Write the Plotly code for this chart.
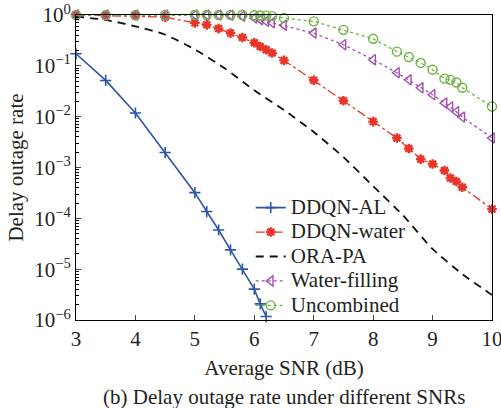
import plotly.graph_objects as go

# SNR grid (dB) used by the simulated schemes
snr_al = [3, 3.5, 4, 4.5, 5, 5.2, 5.4, 5.6, 5.8, 6.0, 6.1, 6.2]
snr_grid = [3, 3.5, 4, 4.5, 5, 5.2, 5.4, 5.6, 5.8, 6.0, 6.1, 6.2, 6.3, 6.5,
            7, 7.5, 8, 8.4, 8.6, 8.8, 9.0, 9.2, 9.3, 9.4, 9.5, 10]
snr_ora = [3, 3.5, 4, 4.5, 5, 5.5, 6, 6.5, 7, 7.5, 8, 8.5, 9, 9.5, 10]

# Delay outage rate per scheme
out_ddqn_al = [0.173, 0.0516, 0.0118, 0.00197, 3.2e-4, 1.36e-4, 5.9e-5, 2.4e-5,
               1.0e-5, 4.05e-6, 2.08e-6, 1.17e-6]
out_ddqn_water = [1.0, 0.97, 0.97, 0.91, 0.70, 0.64, 0.54, 0.44, 0.36, 0.285,
                  0.24, 0.207, 0.179, 0.128, 0.052, 0.0206, 0.0080, 0.0038,
                  0.00237, 0.00146, 0.00117, 0.00087, 0.00062, 0.00053,
                  0.00041, 0.000152]
out_ora_pa = [0.93, 0.80, 0.60, 0.41, 0.21, 0.090, 0.033, 0.0135, 0.0050,
              0.0016, 4.3e-4, 1.15e-4, 2.5e-5, 8e-6, 3.1e-6]
out_water_filling = [1.0, 1.0, 1.0, 1.0, 1.0, 1.0, 1.0, 0.99, 0.95, 0.87, 0.81,
                     0.75, 0.70, 0.63, 0.44, 0.26, 0.132, 0.073, 0.053, 0.037,
                     0.027, 0.0186, 0.0155, 0.0125, 0.0098, 0.0038]
out_uncombined = [1.0, 1.0, 1.0, 1.0, 1.0, 1.0, 1.0, 1.0, 1.0, 0.99, 0.98,
                  0.97, 0.95, 0.87, 0.75, 0.51, 0.34, 0.19, 0.149, 0.114,
                  0.084, 0.056, 0.053, 0.047, 0.037, 0.0158]

y_tickvals = [1, 0.1, 0.01, 1e-3, 1e-4, 1e-5, 1e-6]
y_ticktext = ["10<sup>0</sup>", "10<sup>−1</sup>", "10<sup>−2</sup>",
              "10<sup>−3</sup>", "10<sup>−4</sup>", "10<sup>−5</sup>",
              "10<sup>−6</sup>"]
x_tickvals = [3, 4, 5, 6, 7, 8, 9, 10]

FONT = "Liberation Serif, Times New Roman, serif"
TXT = "#231f20"


def lbl(s):
    return f'<span style="font-size:21px">{s}</span>'


fig = go.Figure()
fig.add_trace(go.Scatter(
    x=snr_al, y=out_ddqn_al, name=lbl("DDQN-AL"), mode="lines+markers",
    line=dict(color="#2e55a6", width=1.6),
    marker=dict(symbol="cross-thin", size=8, line=dict(color="#2e55a6", width=1.6)),
    cliponaxis=False))
fig.add_trace(go.Scatter(
    x=snr_grid, y=out_ddqn_water, name=lbl("DDQN-water"), mode="lines+markers",
    line=dict(color="#e8352a", width=1.3, dash="dashdot"),
    marker=dict(symbol="asterisk-open", size=8, line=dict(color="#e8352a", width=2.4)),
    cliponaxis=False))
fig.add_trace(go.Scatter(
    x=snr_ora, y=out_ora_pa, name=lbl("ORA-PA"), mode="lines",
    line=dict(color="#111111", width=1.8, dash="8px,6px", shape="spline", smoothing=0.6),
    cliponaxis=False))
fig.add_trace(go.Scatter(
    x=snr_grid, y=out_water_filling, name=lbl("Water-filling"), mode="lines+markers",
    line=dict(color="#a24fb0", width=1.3, dash="dot"),
    marker=dict(symbol="triangle-left-open", size=9, line=dict(color="#a24fb0", width=1.4)),
    cliponaxis=False))
fig.add_trace(go.Scatter(
    x=snr_grid, y=out_uncombined, name=lbl("Uncombined"), mode="lines+markers",
    line=dict(color="#6cb33e", width=1.3, dash="dot"),
    marker=dict(symbol="circle-open", size=9, line=dict(color="#6cb33e", width=1.4)),
    cliponaxis=False))

fig.update_layout(
    width=501, height=408,
    margin=dict(l=76, r=9, t=15, b=88),
    paper_bgcolor="white", plot_bgcolor="white",
    font=dict(family=FONT, size=21, color=TXT),
    showlegend=True,
    legend=dict(x=0.42, y=0.425, xanchor="left", yanchor="top",
                bgcolor="rgba(0,0,0,0)", borderwidth=0,
                font=dict(family=FONT, size=16.5, color=TXT),
                itemwidth=30),
    xaxis=dict(range=[3, 10], tickvals=x_tickvals, ticks="inside", ticklen=5,
               showline=True, linecolor="black", linewidth=1, mirror=True,
               showgrid=False, zeroline=False, ticklabeloverflow="allow",
               automargin=False,
               tickfont=dict(family=FONT, size=21, color=TXT),
               title=dict(text="Average SNR (dB)", standoff=10,
                          font=dict(family=FONT, size=21, color=TXT))),
    yaxis=dict(type="log", range=[-6, 0], tickvals=y_tickvals, ticktext=y_ticktext,
               ticks="inside", ticklen=5, ticklabeloverflow="allow",
               automargin=False,
               minor=dict(ticks="inside", ticklen=3, dtick="D1", showgrid=False,
                          tickcolor="black"),
               showline=True, linecolor="black", linewidth=1, mirror=True,
               showgrid=False, zeroline=False,
               tickfont=dict(family=FONT, size=21, color=TXT),
               title=dict(text="Delay outage rate", standoff=4,
                          font=dict(family=FONT, size=21, color=TXT))),
    annotations=[dict(text="(b) Delay outage rate under different SNRs",
                      xref="paper", yref="paper", x=0.5, y=-0.252,
                      xanchor="center", yanchor="middle", showarrow=False,
                      font=dict(family=FONT, size=21, color=TXT))],
)

fig.write_html("out.html")
